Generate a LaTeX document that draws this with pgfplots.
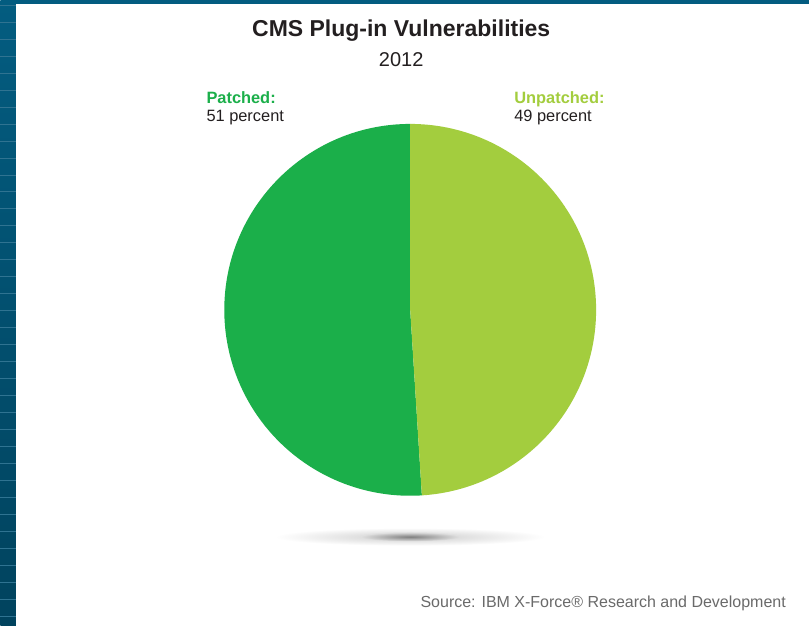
\documentclass[border=0pt]{standalone}
\usepackage{pgfplots}
\pgfplotsset{compat=1.18}
\usepackage{pgfplotstable}
\usepackage{fontspec}
\setmainfont{Liberation Sans}
\definecolor{patched}{HTML}{1BAF4A}
\definecolor{unpatched}{HTML}{A3CD3E}
\definecolor{bluetop}{HTML}{035C80}
\definecolor{bluebot}{HTML}{01435E}
\definecolor{stripe}{HTML}{2F7391}
\definecolor{titlec}{HTML}{231F20}
\definecolor{srcc}{HTML}{6A6A6A}

\pgfplotstableread{
label value
Patched 51
Unpatched 49
}\piedata

\pgfplotstablegetelem{0}{value}\of\piedata
\pgfmathsetmacro\angA{90+3.6*\pgfplotsretval}
\pgfmathsetmacro\angB{\angA-360}

\begin{document}
\begin{tikzpicture}
% background frame
\shade[top color=bluetop, bottom color=bluebot] (0,0) rectangle (809bp,626bp);
\foreach \yy in {5,22,39,56,73,90,107,124,141,158,175,192,209,226,243,260,277,294,311,328,345,362,379,396,413,430,447,464,481,498,515,532,549,566,583,600,617}
  \draw[stripe, line width=0.8bp] (0,626bp-\yy bp) -- (16bp,626bp-\yy bp);
\fill[white] (16bp,0) rectangle (809bp,622bp);
\begin{axis}[
  at={(0,0)}, anchor=south west,
  x=1bp, y=1bp, xmin=0, xmax=809, ymin=0, ymax=626,
  hide axis, clip=false, disabledatascaling,
]
% shadow
\shade[inner color=black!20, outer color=white] (axis cs:410,89) ellipse [x radius=135bp, y radius=9bp];
\shade[inner color=black!50, outer color=black!12] (axis cs:410,89) ellipse [x radius=50bp, y radius=4.5bp];
% pie slices from data
\fill[patched] (axis cs:410,316) -- (axis cs:410,502) arc[start angle=90, end angle=\angA, radius=186bp] -- cycle;
\fill[unpatched] (axis cs:410,316) -- (axis cs:410,502) arc[start angle=90, end angle=\angB, radius=186bp] -- cycle;
% texts
\node[anchor=base, text=titlec, inner sep=0pt, font=\fontsize{23bp}{24bp}\selectfont\bfseries] at (axis cs:401,589) {CMS Plug-in Vulnerabilities};
\node[anchor=base, text=titlec, inner sep=0pt, font=\fontsize{20bp}{22bp}\selectfont] at (axis cs:401,559) {2012};
\node[anchor=base west, text=patched, inner sep=0pt, font=\fontsize{16.4bp}{18bp}\selectfont\bfseries] at (axis cs:206,522) {Patched:};
\node[anchor=base west, text=titlec, inner sep=0pt, font=\fontsize{16.4bp}{18bp}\selectfont] at (axis cs:206,504) {51 percent};
\node[anchor=base west, text=unpatched, inner sep=0pt, font=\fontsize{16.4bp}{18bp}\selectfont\bfseries] at (axis cs:514,522) {Unpatched:};
\node[anchor=base west, text=titlec, inner sep=0pt, font=\fontsize{16.4bp}{18bp}\selectfont] at (axis cs:514,504) {49 percent};
\node[anchor=base east, text=srcc, inner sep=0pt, font=\fontsize{16bp}{18bp}\selectfont] at (axis cs:786,18) {Source: IBM X-Force® Research and Development};
\end{axis}
\end{tikzpicture}
\end{document}
